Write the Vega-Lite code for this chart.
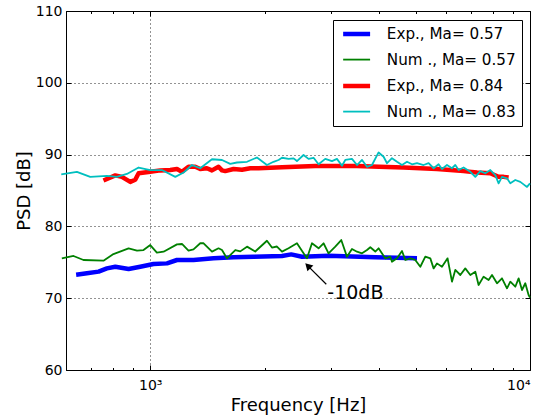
{
  "$schema": "https://vega.github.io/schema/vega-lite/v6.json",
  "width": 464,
  "height": 359,
  "autosize": {"type": "none"},
  "padding": {"left": 66, "top": 11, "right": 17, "bottom": 46},
  "background": "white",
  "datasets": {
    "psd": [
      {"series": "Exp., Ma= 0.57", "f": 638, "psd": 73.28},
      {"series": "Exp., Ma= 0.57", "f": 681, "psd": 73.47},
      {"series": "Exp., Ma= 0.57", "f": 731, "psd": 73.7},
      {"series": "Exp., Ma= 0.57", "f": 769, "psd": 74.15},
      {"series": "Exp., Ma= 0.57", "f": 809, "psd": 74.38},
      {"series": "Exp., Ma= 0.57", "f": 877, "psd": 74.07},
      {"series": "Exp., Ma= 0.57", "f": 941, "psd": 74.38},
      {"series": "Exp., Ma= 0.57", "f": 1020, "psd": 74.76},
      {"series": "Exp., Ma= 0.57", "f": 1107, "psd": 74.85},
      {"series": "Exp., Ma= 0.57", "f": 1176, "psd": 75.32},
      {"series": "Exp., Ma= 0.57", "f": 1300, "psd": 75.32},
      {"series": "Exp., Ma= 0.57", "f": 1468, "psd": 75.55},
      {"series": "Exp., Ma= 0.57", "f": 1657, "psd": 75.69},
      {"series": "Exp., Ma= 0.57", "f": 1871, "psd": 75.78},
      {"series": "Exp., Ma= 0.57", "f": 2223, "psd": 75.88},
      {"series": "Exp., Ma= 0.57", "f": 2351, "psd": 76.1},
      {"series": "Exp., Ma= 0.57", "f": 2509, "psd": 75.78},
      {"series": "Exp., Ma= 0.57", "f": 2948, "psd": 75.92},
      {"series": "Exp., Ma= 0.57", "f": 3914, "psd": 75.69},
      {"series": "Exp., Ma= 0.57", "f": 5040, "psd": 75.55},

      {"series": "Num ., Ma= 0.57", "f": 585, "psd": 75.55},
      {"series": "Num ., Ma= 0.57", "f": 628, "psd": 75.88},
      {"series": "Num ., Ma= 0.57", "f": 667, "psd": 75.32},
      {"series": "Num ., Ma= 0.57", "f": 753, "psd": 75.22},
      {"series": "Num ., Ma= 0.57", "f": 800, "psd": 76.15},
      {"series": "Num ., Ma= 0.57", "f": 877, "psd": 76.95},
      {"series": "Num ., Ma= 0.57", "f": 923, "psd": 76.62},
      {"series": "Num ., Ma= 0.57", "f": 960, "psd": 76.71},
      {"series": "Num ., Ma= 0.57", "f": 1000, "psd": 77.4},
      {"series": "Num ., Ma= 0.57", "f": 1041, "psd": 76.34},
      {"series": "Num ., Ma= 0.57", "f": 1084, "psd": 76.48},
      {"series": "Num ., Ma= 0.57", "f": 1176, "psd": 77.5},
      {"series": "Num ., Ma= 0.57", "f": 1212, "psd": 77.55},
      {"series": "Num ., Ma= 0.57", "f": 1261, "psd": 76.62},
      {"series": "Num ., Ma= 0.57", "f": 1300, "psd": 76.81},
      {"series": "Num ., Ma= 0.57", "f": 1354, "psd": 77.65},
      {"series": "Num ., Ma= 0.57", "f": 1382, "psd": 77.65},
      {"series": "Num ., Ma= 0.57", "f": 1454, "psd": 76.48},
      {"series": "Num ., Ma= 0.57", "f": 1513, "psd": 76.95},
      {"series": "Num ., Ma= 0.57", "f": 1545, "psd": 76.71},
      {"series": "Num ., Ma= 0.57", "f": 1592, "psd": 75.55},
      {"series": "Num ., Ma= 0.57", "f": 1675, "psd": 76.71},
      {"series": "Num ., Ma= 0.57", "f": 1726, "psd": 76.52},
      {"series": "Num ., Ma= 0.57", "f": 1798, "psd": 77.18},
      {"series": "Num ., Ma= 0.57", "f": 1890, "psd": 76.5},
      {"series": "Num ., Ma= 0.57", "f": 2029, "psd": 78.0},
      {"series": "Num ., Ma= 0.57", "f": 2092, "psd": 77.05},
      {"series": "Num ., Ma= 0.57", "f": 2156, "psd": 77.2},
      {"series": "Num ., Ma= 0.57", "f": 2223, "psd": 76.48},
      {"series": "Num ., Ma= 0.57", "f": 2313, "psd": 76.95},
      {"series": "Num ., Ma= 0.57", "f": 2434, "psd": 77.65},
      {"series": "Num ., Ma= 0.57", "f": 2586, "psd": 75.55},
      {"series": "Num ., Ma= 0.57", "f": 2666, "psd": 77.65},
      {"series": "Num ., Ma= 0.57", "f": 2775, "psd": 76.95},
      {"series": "Num ., Ma= 0.57", "f": 2860, "psd": 77.65},
      {"series": "Num ., Ma= 0.57", "f": 2948, "psd": 76.25},
      {"series": "Num ., Ma= 0.57", "f": 3071, "psd": 77.18},
      {"series": "Num ., Ma= 0.57", "f": 3184, "psd": 78.1},
      {"series": "Num ., Ma= 0.57", "f": 3296, "psd": 75.78},
      {"series": "Num ., Ma= 0.57", "f": 3398, "psd": 76.85},
      {"series": "Num ., Ma= 0.57", "f": 3503, "psd": 76.48},
      {"series": "Num ., Ma= 0.57", "f": 3611, "psd": 76.25},
      {"series": "Num ., Ma= 0.57", "f": 3722, "psd": 76.71},
      {"series": "Num ., Ma= 0.57", "f": 3797, "psd": 77.1},
      {"series": "Num ., Ma= 0.57", "f": 3914, "psd": 76.5},
      {"series": "Num ., Ma= 0.57", "f": 3993, "psd": 76.95},
      {"series": "Num ., Ma= 0.57", "f": 4158, "psd": 75.55},
      {"series": "Num ., Ma= 0.57", "f": 4286, "psd": 75.78},
      {"series": "Num ., Ma= 0.57", "f": 4331, "psd": 75.08},
      {"series": "Num ., Ma= 0.57", "f": 4464, "psd": 75.55},
      {"series": "Num ., Ma= 0.57", "f": 4602, "psd": 76.57},
      {"series": "Num ., Ma= 0.57", "f": 4695, "psd": 75.32},
      {"series": "Num ., Ma= 0.57", "f": 4840, "psd": 75.55},
      {"series": "Num ., Ma= 0.57", "f": 4988, "psd": 75.32},
      {"series": "Num ., Ma= 0.57", "f": 5142, "psd": 74.38},
      {"series": "Num ., Ma= 0.57", "f": 5301, "psd": 75.78},
      {"series": "Num ., Ma= 0.57", "f": 5464, "psd": 75.55},
      {"series": "Num ., Ma= 0.57", "f": 5574, "psd": 74.15},
      {"series": "Num ., Ma= 0.57", "f": 5689, "psd": 74.85},
      {"series": "Num ., Ma= 0.57", "f": 5864, "psd": 74.38},
      {"series": "Num ., Ma= 0.57", "f": 6067, "psd": 75.55},
      {"series": "Num ., Ma= 0.57", "f": 6231, "psd": 72.3},
      {"series": "Num ., Ma= 0.57", "f": 6357, "psd": 73.93},
      {"series": "Num ., Ma= 0.57", "f": 6554, "psd": 73.23},
      {"series": "Num ., Ma= 0.57", "f": 6754, "psd": 74.15},
      {"series": "Num ., Ma= 0.57", "f": 6964, "psd": 73.23},
      {"series": "Num ., Ma= 0.57", "f": 7178, "psd": 73.7},
      {"series": "Num ., Ma= 0.57", "f": 7322, "psd": 71.84},
      {"series": "Num ., Ma= 0.57", "f": 7547, "psd": 73.0},
      {"series": "Num ., Ma= 0.57", "f": 7781, "psd": 72.53},
      {"series": "Num ., Ma= 0.57", "f": 7943, "psd": 73.23},
      {"series": "Num ., Ma= 0.57", "f": 8187, "psd": 72.08},
      {"series": "Num ., Ma= 0.57", "f": 8438, "psd": 72.77},
      {"series": "Num ., Ma= 0.57", "f": 8698, "psd": 71.38},
      {"series": "Num ., Ma= 0.57", "f": 8875, "psd": 72.3},
      {"series": "Num ., Ma= 0.57", "f": 9148, "psd": 71.6},
      {"series": "Num ., Ma= 0.57", "f": 9333, "psd": 72.77},
      {"series": "Num ., Ma= 0.57", "f": 9526, "psd": 71.14},
      {"series": "Num ., Ma= 0.57", "f": 9719, "psd": 72.08},
      {"series": "Num ., Ma= 0.57", "f": 9915, "psd": 70.45},
      {"series": "Num ., Ma= 0.57", "f": 10000, "psd": 70.07},

      {"series": "Exp., Ma= 0.84", "f": 753, "psd": 86.4},
      {"series": "Exp., Ma= 0.84", "f": 809, "psd": 87.1},
      {"series": "Exp., Ma= 0.84", "f": 842, "psd": 86.9},
      {"series": "Exp., Ma= 0.84", "f": 886, "psd": 86.2},
      {"series": "Exp., Ma= 0.84", "f": 913, "psd": 86.5},
      {"series": "Exp., Ma= 0.84", "f": 932, "psd": 87.4},
      {"series": "Exp., Ma= 0.84", "f": 1000, "psd": 87.6},
      {"series": "Exp., Ma= 0.84", "f": 1063, "psd": 87.8},
      {"series": "Exp., Ma= 0.84", "f": 1129, "psd": 87.85},
      {"series": "Exp., Ma= 0.84", "f": 1176, "psd": 88.0},
      {"series": "Exp., Ma= 0.84", "f": 1212, "psd": 87.6},
      {"series": "Exp., Ma= 0.84", "f": 1261, "psd": 88.3},
      {"series": "Exp., Ma= 0.84", "f": 1314, "psd": 88.3},
      {"series": "Exp., Ma= 0.84", "f": 1354, "psd": 88.0},
      {"series": "Exp., Ma= 0.84", "f": 1410, "psd": 88.1},
      {"series": "Exp., Ma= 0.84", "f": 1454, "psd": 87.8},
      {"series": "Exp., Ma= 0.84", "f": 1513, "psd": 88.3},
      {"series": "Exp., Ma= 0.84", "f": 1545, "psd": 87.8},
      {"series": "Exp., Ma= 0.84", "f": 1576, "psd": 87.7},
      {"series": "Exp., Ma= 0.84", "f": 1657, "psd": 88.0},
      {"series": "Exp., Ma= 0.84", "f": 1744, "psd": 87.9},
      {"series": "Exp., Ma= 0.84", "f": 1834, "psd": 88.1},
      {"series": "Exp., Ma= 0.84", "f": 1929, "psd": 88.1},
      {"series": "Exp., Ma= 0.84", "f": 2223, "psd": 88.25},
      {"series": "Exp., Ma= 0.84", "f": 2720, "psd": 88.4},
      {"series": "Exp., Ma= 0.84", "f": 3500, "psd": 88.4},
      {"series": "Exp., Ma= 0.84", "f": 4000, "psd": 88.3},
      {"series": "Exp., Ma= 0.84", "f": 4647, "psd": 88.2},
      {"series": "Exp., Ma= 0.84", "f": 5689, "psd": 88.0},
      {"series": "Exp., Ma= 0.84", "f": 6685, "psd": 87.7},
      {"series": "Exp., Ma= 0.84", "f": 7252, "psd": 87.5},
      {"series": "Exp., Ma= 0.84", "f": 7862, "psd": 87.4},
      {"series": "Exp., Ma= 0.84", "f": 8267, "psd": 86.9},
      {"series": "Exp., Ma= 0.84", "f": 8522, "psd": 86.9},
      {"series": "Exp., Ma= 0.84", "f": 8783, "psd": 86.8},

      {"series": "Num ., Ma= 0.83", "f": 583, "psd": 87.25},
      {"series": "Num ., Ma= 0.83", "f": 641, "psd": 87.6},
      {"series": "Num ., Ma= 0.83", "f": 695, "psd": 86.9},
      {"series": "Num ., Ma= 0.83", "f": 769, "psd": 87.05},
      {"series": "Num ., Ma= 0.83", "f": 817, "psd": 86.9},
      {"series": "Num ., Ma= 0.83", "f": 868, "psd": 87.3},
      {"series": "Num ., Ma= 0.83", "f": 932, "psd": 88.2},
      {"series": "Num ., Ma= 0.83", "f": 1000, "psd": 87.85},
      {"series": "Num ., Ma= 0.83", "f": 1073, "psd": 87.85},
      {"series": "Num ., Ma= 0.83", "f": 1164, "psd": 86.9},
      {"series": "Num ., Ma= 0.83", "f": 1224, "psd": 87.5},
      {"series": "Num ., Ma= 0.83", "f": 1288, "psd": 88.55},
      {"series": "Num ., Ma= 0.83", "f": 1354, "psd": 88.1},
      {"series": "Num ., Ma= 0.83", "f": 1454, "psd": 89.35},
      {"series": "Num ., Ma= 0.83", "f": 1545, "psd": 89.25},
      {"series": "Num ., Ma= 0.83", "f": 1624, "psd": 88.7},
      {"series": "Num ., Ma= 0.83", "f": 1692, "psd": 88.9},
      {"series": "Num ., Ma= 0.83", "f": 1798, "psd": 89.0},
      {"series": "Num ., Ma= 0.83", "f": 1910, "psd": 89.6},
      {"series": "Num ., Ma= 0.83", "f": 2029, "psd": 88.55},
      {"series": "Num ., Ma= 0.83", "f": 2112, "psd": 89.0},
      {"series": "Num ., Ma= 0.83", "f": 2177, "psd": 89.25},
      {"series": "Num ., Ma= 0.83", "f": 2223, "psd": 89.56},
      {"series": "Num ., Ma= 0.83", "f": 2313, "psd": 89.4},
      {"series": "Num ., Ma= 0.83", "f": 2385, "psd": 89.48},
      {"series": "Num ., Ma= 0.83", "f": 2434, "psd": 89.1},
      {"series": "Num ., Ma= 0.83", "f": 2533, "psd": 89.94},
      {"series": "Num ., Ma= 0.83", "f": 2611, "psd": 89.4},
      {"series": "Num ., Ma= 0.83", "f": 2692, "psd": 89.56},
      {"series": "Num ., Ma= 0.83", "f": 2775, "psd": 88.65},
      {"series": "Num ., Ma= 0.83", "f": 2890, "psd": 89.4},
      {"series": "Num ., Ma= 0.83", "f": 3010, "psd": 89.1},
      {"series": "Num ., Ma= 0.83", "f": 3102, "psd": 89.4},
      {"series": "Num ., Ma= 0.83", "f": 3198, "psd": 88.45},
      {"series": "Num ., Ma= 0.83", "f": 3263, "psd": 89.25},
      {"series": "Num ., Ma= 0.83", "f": 3398, "psd": 89.4},
      {"series": "Num ., Ma= 0.83", "f": 3503, "psd": 88.55},
      {"series": "Num ., Ma= 0.83", "f": 3611, "psd": 89.25},
      {"series": "Num ., Ma= 0.83", "f": 3722, "psd": 88.3},
      {"series": "Num ., Ma= 0.83", "f": 3836, "psd": 88.55},
      {"series": "Num ., Ma= 0.83", "f": 3993, "psd": 90.3},
      {"series": "Num ., Ma= 0.83", "f": 4116, "psd": 89.7},
      {"series": "Num ., Ma= 0.83", "f": 4202, "psd": 88.8},
      {"series": "Num ., Ma= 0.83", "f": 4331, "psd": 89.5},
      {"series": "Num ., Ma= 0.83", "f": 4464, "psd": 89.0},
      {"series": "Num ., Ma= 0.83", "f": 4602, "psd": 88.55},
      {"series": "Num ., Ma= 0.83", "f": 4744, "psd": 89.0},
      {"series": "Num ., Ma= 0.83", "f": 4890, "psd": 88.65},
      {"series": "Num ., Ma= 0.83", "f": 5040, "psd": 88.8},
      {"series": "Num ., Ma= 0.83", "f": 5245, "psd": 88.55},
      {"series": "Num ., Ma= 0.83", "f": 5408, "psd": 88.8},
      {"series": "Num ., Ma= 0.83", "f": 5574, "psd": 88.1},
      {"series": "Num ., Ma= 0.83", "f": 5745, "psd": 88.65},
      {"series": "Num ., Ma= 0.83", "f": 5864, "psd": 88.0},
      {"series": "Num ., Ma= 0.83", "f": 6045, "psd": 88.55},
      {"series": "Num ., Ma= 0.83", "f": 6231, "psd": 88.1},
      {"series": "Num ., Ma= 0.83", "f": 6357, "psd": 88.55},
      {"series": "Num ., Ma= 0.83", "f": 6486, "psd": 87.85},
      {"series": "Num ., Ma= 0.83", "f": 6685, "psd": 88.2},
      {"series": "Num ., Ma= 0.83", "f": 6964, "psd": 87.6},
      {"series": "Num ., Ma= 0.83", "f": 7178, "psd": 86.9},
      {"series": "Num ., Ma= 0.83", "f": 7399, "psd": 87.7},
      {"series": "Num ., Ma= 0.83", "f": 7625, "psd": 87.4},
      {"series": "Num ., Ma= 0.83", "f": 7862, "psd": 87.85},
      {"series": "Num ., Ma= 0.83", "f": 8103, "psd": 87.15},
      {"series": "Num ., Ma= 0.83", "f": 8267, "psd": 86.0},
      {"series": "Num ., Ma= 0.83", "f": 8438, "psd": 86.9},
      {"series": "Num ., Ma= 0.83", "f": 8698, "psd": 86.7},
      {"series": "Num ., Ma= 0.83", "f": 8875, "psd": 86.0},
      {"series": "Num ., Ma= 0.83", "f": 9148, "psd": 86.46},
      {"series": "Num ., Ma= 0.83", "f": 9428, "psd": 86.2},
      {"series": "Num ., Ma= 0.83", "f": 9618, "psd": 85.85},
      {"series": "Num ., Ma= 0.83", "f": 9820, "psd": 85.5},
      {"series": "Num ., Ma= 0.83", "f": 10000, "psd": 86.0}
    ]
  },
  "resolve": {"axis": {"x": "independent", "y": "independent"}},
  "layer": [
    {
      "data": {"name": "psd"},
      "mark": {"type": "line", "strokeCap": "butt", "strokeJoin": "round"},
      "encoding": {
        "x": {
          "field": "f", "type": "quantitative",
          "scale": {"type": "log", "domain": [600, 10000], "nice": false},
          "axis": {
            "orient": "bottom", "values": [1000, 10000], "tickSize": -5, "grid": true,
            "labelExpr": "datum.value === 1000 ? '10³' : datum.value === 10000 ? '10⁴' : ''",
            "labelOverlap": false, "labelFontSize": 14, "labelPadding": 13,
            "title": "Frequency [Hz]", "titleFontSize": 18, "titlePadding": 4
          }
        },
        "y": {
          "field": "psd", "type": "quantitative",
          "scale": {"domain": [60, 110], "nice": false, "zero": false},
          "axis": {
            "orient": "left", "values": [60, 70, 80, 90, 100, 110], "tickSize": -5, "grid": true,
            "labelFontSize": 14, "labelPadding": 9,
            "title": "PSD [dB]", "titleFontSize": 18, "titlePadding": 2
          }
        },
        "color": {
          "field": "series", "type": "nominal",
          "scale": {
            "domain": ["Exp., Ma= 0.57", "Num ., Ma= 0.57", "Exp., Ma= 0.84", "Num ., Ma= 0.83"],
            "range": ["#0000ff", "#008000", "#ff0000", "#00bfbf"]
          },
          "legend": {
            "orient": "top-right", "offset": 8.5, "title": null,
            "strokeColor": "#000", "fillColor": "#fff", "padding": 6, "cornerRadius": 0,
            "labelFontSize": 15.2, "labelFont": "DejaVu Sans", "labelColor": "#000", "labelLimit": 400,
            "symbolType": "M-0.7,0H4.2", "symbolSize": 121, "labelOffset": 31.8, "rowPadding": 9
          }
        },
        "strokeWidth": {
          "field": "series", "type": "nominal",
          "scale": {
            "type": "ordinal",
            "domain": ["Exp., Ma= 0.57", "Num ., Ma= 0.57", "Exp., Ma= 0.84", "Num ., Ma= 0.83"],
            "range": [4.5, 1.8, 4.5, 1.8]
          }
        }
      }
    },
    {
      "data": {"values": [{"f": 2908, "psd": 71.94, "f2": 2600, "psd2": 74.51}]},
      "mark": {"type": "rule", "color": "#000", "strokeWidth": 1.2},
      "encoding": {
        "x": {
          "field": "f", "type": "quantitative",
          "scale": {"type": "log", "domain": [600, 10000], "nice": false},
          "axis": {"orient": "top", "values": [1000, 10000], "tickSize": -5, "grid": false, "labels": false, "title": null}
        },
        "y": {
          "field": "psd", "type": "quantitative",
          "scale": {"domain": [60, 110], "nice": false, "zero": false},
          "axis": {"orient": "right", "values": [60, 70, 80, 90, 100, 110], "tickSize": -5, "grid": false, "labels": false, "title": null}
        },
        "x2": {"field": "f2"},
        "y2": {"field": "psd2"}
      }
    },
    {
      "data": {"values": [{"f": 2600, "psd": 74.51}]},
      "mark": {"type": "point", "shape": "triangle-up", "filled": true, "color": "#000", "size": 70, "angle": -45, "opacity": 1},
      "encoding": {
        "x": {
          "field": "f", "type": "quantitative",
          "scale": {"type": "log", "domain": [600, 10000], "nice": false},
          "axis": {"orient": "bottom", "values": [600, 700, 800, 900, 2000, 3000, 4000, 5000, 6000, 7000, 8000, 9000], "tickSize": -2.5, "grid": false, "labels": false, "title": null}
        },
        "y": {
          "field": "psd", "type": "quantitative",
          "scale": {"domain": [60, 110], "nice": false, "zero": false},
          "axis": null
        }
      }
    },
    {
      "data": {"values": [{"f": 2926, "psd": 69.9, "label": "-10dB"}]},
      "mark": {"type": "text", "align": "left", "baseline": "alphabetic", "fontSize": 19, "font": "DejaVu Sans", "color": "#000"},
      "encoding": {
        "x": {
          "field": "f", "type": "quantitative",
          "scale": {"type": "log", "domain": [600, 10000], "nice": false},
          "axis": {"orient": "top", "values": [600, 700, 800, 900, 2000, 3000, 4000, 5000, 6000, 7000, 8000, 9000], "tickSize": -2.5, "grid": false, "labels": false, "title": null}
        },
        "y": {
          "field": "psd", "type": "quantitative",
          "scale": {"domain": [60, 110], "nice": false, "zero": false},
          "axis": null
        },
        "text": {"field": "label"}
      }
    }
  ],
  "config": {
    "font": "DejaVu Sans",
    "view": {"stroke": "#000", "strokeWidth": 1},
    "axis": {
      "domain": false,
      "tickColor": "#000",
      "tickWidth": 1,
      "labelColor": "#000",
      "titleColor": "#000",
      "labelFont": "DejaVu Sans",
      "titleFont": "DejaVu Sans",
      "titleFontWeight": "normal",
      "gridColor": "#000",
      "gridDash": [1, 3],
      "gridWidth": 1,
      "gridOpacity": 0.85
    }
  }
}
